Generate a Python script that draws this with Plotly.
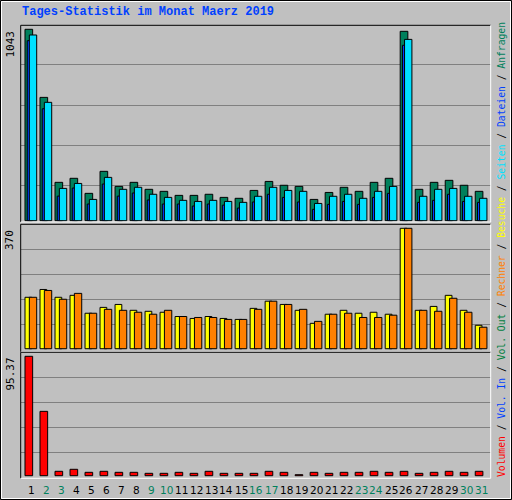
import plotly.graph_objects as go

days = list(range(1, 32))
anfragen = [1043,672,209,231,149,269,187,209,171,160,138,138,144,127,122,165,214,193,187,116,154,182,160,209,231,1032,171,209,220,193,160]
dateien  = [981,610,134,178,91,200,134,151,113,91,91,80,91,85,69,102,144,127,102,62,89,105,89,127,149,956,100,111,144,105,100]
seiten   = [1012,645,176,203,116,236,171,182,144,127,111,105,111,105,100,133,182,165,160,94,133,144,122,160,187,988,133,171,176,133,122]
besuche  = [158,182,158,164,109,127,136,118,115,112,99,93,99,93,90,124,146,136,118,78,106,118,109,112,106,370,118,130,164,118,72]
rechner  = [158,179,152,170,109,121,118,112,106,118,99,96,96,90,90,121,146,136,121,84,106,109,96,96,103,370,118,115,155,112,66]
volumen  = [95.37,51.4,3.5,5.1,2.7,3.5,2.7,2.7,1.9,1.9,2.7,1.9,3.5,1.9,1.9,1.9,3.5,2.7,0.8,2.7,1.9,2.7,2.7,3.5,2.7,3.5,1.9,2.7,3.5,2.7,3.5]
weekend = {2,3,9,10,16,17,23,24,30,31}

W, H = 512, 500
def py(p):
    return 1 - p / H

GREEN, BLUE, CYAN = "#00805c", "#0040ff", "#00e0ff"
YELLOW, ORANGE, RED = "#ffff00", "#ff8000", "#ff0000"
BG = "#c0c0c0"

fig = go.Figure()
line = dict(color="black", width=1)
def bar(y, color, off, wid, xa, ya):
    fig.add_trace(go.Bar(x=days, y=y, offset=off, width=wid, marker=dict(color=color, line=line),
                         xaxis=xa, yaxis=ya, showlegend=False, hoverinfo="skip"))

bar(anfragen, GREEN, -0.3, 0.51, "x", "y")
bar(dateien, BLUE, -0.15, 0.3, "x", "y")
bar(seiten, CYAN, -0.01, 0.49, "x", "y")
bar(besuche, YELLOW, -0.3, 0.45, "x2", "y2")
bar(rechner, ORANGE, -0.01, 0.49, "x2", "y2")
bar(volumen, RED, -0.3, 0.51, "x3", "y3")

xr = [0.414, 31.73]
xd = [20.7 / W, 490.7 / W]
common_x = dict(range=xr, domain=xd, showticklabels=False, showgrid=False, zeroline=False, fixedrange=True)
grid = dict(showgrid=True, gridcolor="#808080", gridwidth=1, showticklabels=False, zeroline=False, fixedrange=True)
fig.update_layout(
    width=W, height=H, margin=dict(l=0, r=0, t=0, b=0),
    paper_bgcolor=BG, plot_bgcolor=BG, barmode="overlay",
    xaxis=dict(**common_x, anchor="y"),
    xaxis2=dict(**common_x, anchor="y2"),
    xaxis3=dict(**common_x, anchor="y3"),
    yaxis=dict(**grid, range=[-7.1, 1064.8], domain=[py(222), py(25.3)], tickvals=[194.5, 412.5, 630.5, 848.5], anchor="x"),
    yaxis2=dict(**grid, range=[-10.1, 382.3], domain=[py(352), py(224.3)], tickvals=[75.0, 151.8, 228.6, 305.5], anchor="x2"),
    yaxis3=dict(**grid, range=[-2.08, 98.57], domain=[py(478.3), py(352.3)], tickvals=[18.7, 38.7, 58.6, 78.6], anchor="x3"),
)

shapes = []
shapes.append(dict(type="rect", xref="paper", yref="paper", x0=0.5/W, x1=1-0.5/W, y0=0.5/H, y1=1-0.5/H, line=dict(color="black", width=1)))
shapes.append(dict(type="rect", xref="paper", yref="paper", x0=1.5/W, x1=1-1.5/W, y0=1.5/H, y1=1-1.5/H, line=dict(color="white", width=1)))
for (t, b) in [(25.3, 222), (224.3, 352), (352.3, 478.3)]:
    x0, x1 = 20.7 / W, 490.7 / W
    shapes.append(dict(type="line", xref="paper", yref="paper", x0=x0, x1=x1, y0=py(t), y1=py(t), line=dict(color="black", width=1)))
    shapes.append(dict(type="line", xref="paper", yref="paper", x0=x0, x1=x0, y0=py(t), y1=py(b), line=dict(color="black", width=1)))
    shapes.append(dict(type="line", xref="paper", yref="paper", x0=x0, x1=x1, y0=py(b), y1=py(b), line=dict(color="white", width=1)))
    shapes.append(dict(type="line", xref="paper", yref="paper", x0=x1, x1=x1, y0=py(t), y1=py(b), line=dict(color="white", width=1)))
fig.update_layout(shapes=shapes)

ann = []
ann.append(dict(text="<b>Tages-Statistik im Monat Maerz 2019</b>", x=20/W, y=py(12), xref="paper", yref="paper",
                xanchor="left", yanchor="middle", showarrow=False,
                font=dict(family="Liberation Mono, DejaVu Sans Mono", size=12, color="#0040ff")))
for label, ypix in [("1043", 29), ("370", 228), ("95.37", 356)]:
    ann.append(dict(text=label, x=10/W, y=py(ypix), xref="paper", yref="paper", textangle=-90,
                    xanchor="center", yanchor="top", showarrow=False,
                    font=dict(family="DejaVu Sans Mono", size=11, color="black")))
for d in days:
    ann.append(dict(text=str(d), x=d + 0.1, y=py(490), xref="x3", yref="paper", showarrow=False,
                    xanchor="center", yanchor="middle",
                    font=dict(family="DejaVu Sans", size=10.5, color=GREEN if d in weekend else "black")))
sep = '<span style="color:black"> / </span>'
parts = [("Volumen", RED), ("Vol. In", BLUE), ("Vol. Out", "#008040"), ("Rechner", ORANGE),
         ("Besuche", YELLOW), ("Seiten", CYAN), ("Dateien", BLUE), ("Anfragen", GREEN)]
txt = sep.join(f'<span style="color:{c}">{t}</span>' for t, c in parts)
ann.append(dict(text=txt, x=501/W, y=py(250), xref="paper", yref="paper", textangle=-90, showarrow=False,
                xanchor="center", yanchor="middle",
                font=dict(family="DejaVu Sans Mono", size=9.7, color="black")))
fig.update_layout(annotations=ann)

fig.write_html("out.html", config={"displayModeBar": False})
with open("out.html", encoding="utf-8") as f:
    html = f.read()
html = html.replace("<body>", '<body style="margin:0;padding:0;overflow:hidden">', 1)
with open("out.html", "w", encoding="utf-8") as f:
    f.write(html)
